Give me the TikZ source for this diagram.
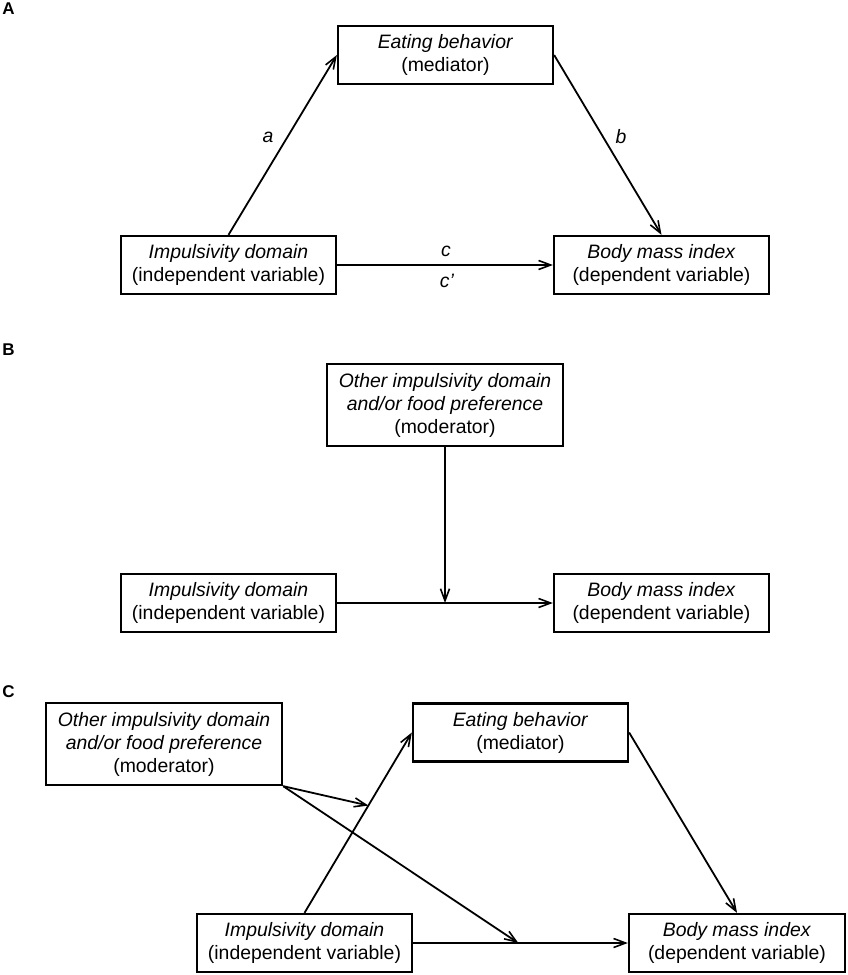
\documentclass[tikz,border=0pt]{standalone}
\usepackage{fontspec}
\setmainfont{Liberation Sans}
\usetikzlibrary{arrows.meta,calc}
\begin{document}
\begin{tikzpicture}[x=1pt,y=-1pt,
  box/.style={draw,line width=2.3pt,minimum width=215pt,minimum height=58pt,inner sep=0pt,align=center,font=\fontsize{19.4}{23}\selectfont},
  modbox/.style={box,minimum width=236pt,minimum height=82pt},
  arr/.style={line width=1.8pt,-{Straight Barb[length=12pt,width=9pt,line width=1.6pt]}},
  lbl/.style={font=\fontsize{19.4}{23}\selectfont\itshape,inner sep=0pt},
  panel/.style={font=\fontsize{17}{19}\selectfont\bfseries,inner sep=0pt}]
\useasboundingbox (0,0) rectangle (847,975);
% Panel A
\node[panel] (pA) at (8.5,9) {A};
\node[box] (eatA) at (445.5,55) {\textit{Eating behavior}\\(mediator)};
\node[box] (impA) at (228.5,265) {\textit{Impulsivity domain}\\(independent variable)};
\node[box] (bmiA) at (661.5,265) {\textit{Body mass index}\\(dependent variable)};
\draw[arr] (impA.north) -- (eatA.west);
\draw[arr] (eatA.east) -- (bmiA.north);
\draw[arr] (impA.east) -- (bmiA.west);
\node[lbl] (la) at (268,137) {a};
\node[lbl] (lb) at (621,137) {b};
\node[lbl] (lc) at (446,251) {c};
\node[lbl] (lcp) at (447,281) {c’};
% Panel B
\node[panel] (pB) at (8.5,350) {B};
\node[modbox] (modB) at (445,405) {\textit{Other impulsivity domain}\\\textit{and/or food preference}\\(moderator)};
\node[box] (impB) at (228.5,603) {\textit{Impulsivity domain}\\(independent variable)};
\node[box] (bmiB) at (661.5,603) {\textit{Body mass index}\\(dependent variable)};
\coordinate (pb) at (modB.south |- impB.east);
\draw[arr] (impB.east) -- (bmiB.west);
\draw[arr] (modB.south) -- (pb);
% Panel C
\node[panel] (pC) at (8.5,692) {C};
\node[modbox] (modC) at (164,744) {\textit{Other impulsivity domain}\\\textit{and/or food preference}\\(moderator)};
\node[box] (eatC) at (520.5,732.5) {\textit{Eating behavior}\\(mediator)};
\node[box] (impC) at (304.5,943) {\textit{Impulsivity domain}\\(independent variable)};
\node[box,minimum width=216pt] (bmiC) at (737,943) {\textit{Body mass index}\\(dependent variable)};
\draw[arr] (impC.north) -- (eatC.west);
\draw[arr] (eatC.east) -- (bmiC.north);
\draw[arr] (impC.east) -- (bmiC.west);
\coordinate (pa) at ($(impC.north)!0.595!(eatC.west)$);
\coordinate (pc) at ($(impC.east)!0.49!(bmiC.west)$);
\draw[arr] (modC.south east) -- (pa);
\draw[arr] (modC.south east) -- (pc);
\end{tikzpicture}
\end{document}
